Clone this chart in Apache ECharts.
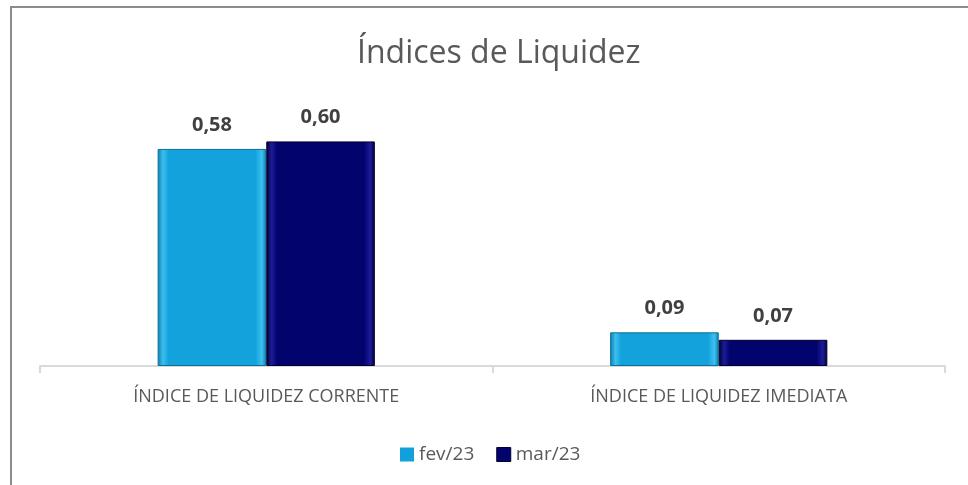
<!DOCTYPE html>
<html>
<head>
<meta charset="utf-8">
<script src="https://cdn.jsdelivr.net/npm/echarts@6/dist/echarts.min.js"></script>
<style>
  html, body { margin: 0; padding: 0; background: #fff; }
  #chart { width: 968px; height: 485px; }
</style>
</head>
<body>
<div id="chart"></div>
<script>
// categorias e valores
const categories = ['ÍNDICE DE LIQUIDEZ CORRENTE', 'ÍNDICE DE LIQUIDEZ IMEDIATA'];
const fev23 = [0.58, 0.09];
const mar23 = [0.60, 0.07];
const seriesNames = ['fev/23', 'mar/23'];

const chart = echarts.init(document.getElementById('chart'), null, { renderer: 'canvas' });

// gradiente horizontal para imitar o efeito de bisel
function bevel(edge, mid, light) {
  return new echarts.graphic.LinearGradient(0, 0, 1, 0, [
    { offset: 0, color: edge },
    { offset: 0.05, color: light },
    { offset: 0.1, color: mid },
    { offset: 0.9, color: mid },
    { offset: 0.96, color: light },
    { offset: 1, color: edge }
  ]);
}

const fontFamily = 'Open Sans';
const valueLabel = {
  show: true,
  position: 'top',
  distance: 14,
  fontFamily: fontFamily,
  fontWeight: 'bold',
  fontSize: 20,
  color: '#404040',
  formatter: p => p.value.toFixed(2).replace('.', ',')
};

const option = {
  backgroundColor: '#ffffff',
  animation: false,
  title: {
    text: 'Índices de Liquidez',
    left: 352,
    top: 33,
    textStyle: { fontFamily: fontFamily, fontWeight: 'normal', fontSize: 32, color: '#595959' }
  },
  legend: {
    top: 440,
    left: 395,
    itemWidth: 14,
    itemHeight: 14,
    itemGap: 22,
    icon: 'rect',
    textStyle: { fontFamily: fontFamily, fontSize: 19, color: '#595959' },
    data: [
      { name: seriesNames[0], itemStyle: { color: '#12a0da', borderWidth: 0 } },
      { name: seriesNames[1], itemStyle: { color: '#03036e', borderColor: '#000030', borderWidth: 1 } }
    ]
  },
  grid: { left: 40, right: 23, top: 104, bottom: 119 },
  xAxis: {
    type: 'category',
    data: categories,
    axisLine: { lineStyle: { color: '#d9d9d9', width: 2 } },
    axisTick: { show: true, length: 7, lineStyle: { color: '#d9d9d9', width: 2 } },
    axisLabel: { fontFamily: fontFamily, fontSize: 18, color: '#595959', margin: 22 }
  },
  yAxis: {
    type: 'value',
    min: 0,
    max: 0.7,
    show: false,
    splitLine: { show: false }
  },
  series: [
    {
      name: seriesNames[0],
      type: 'bar',
      data: fev23,
      barGap: '0%',
      barCategoryGap: '52%',
      itemStyle: {
        color: bevel('#0b7fb0', '#14a2dc', '#3cc0ef'),
        borderColor: '#0c6f9a',
        borderWidth: 1
      },
      label: valueLabel
    },
    {
      name: seriesNames[1],
      type: 'bar',
      data: mar23,
      itemStyle: {
        color: bevel('#00002e', '#03036e', '#1c1c9a'),
        borderColor: '#000030',
        borderWidth: 1
      },
      label: valueLabel
    }
  ],
  graphic: [
    {
      type: 'rect',
      silent: true,
      shape: { x: 11, y: 7, width: 1200, height: 800 },
      style: { fill: 'none', stroke: '#8c8c8c', lineWidth: 2 }
    }
  ]
};

chart.setOption(option);
</script>
</body>
</html>
